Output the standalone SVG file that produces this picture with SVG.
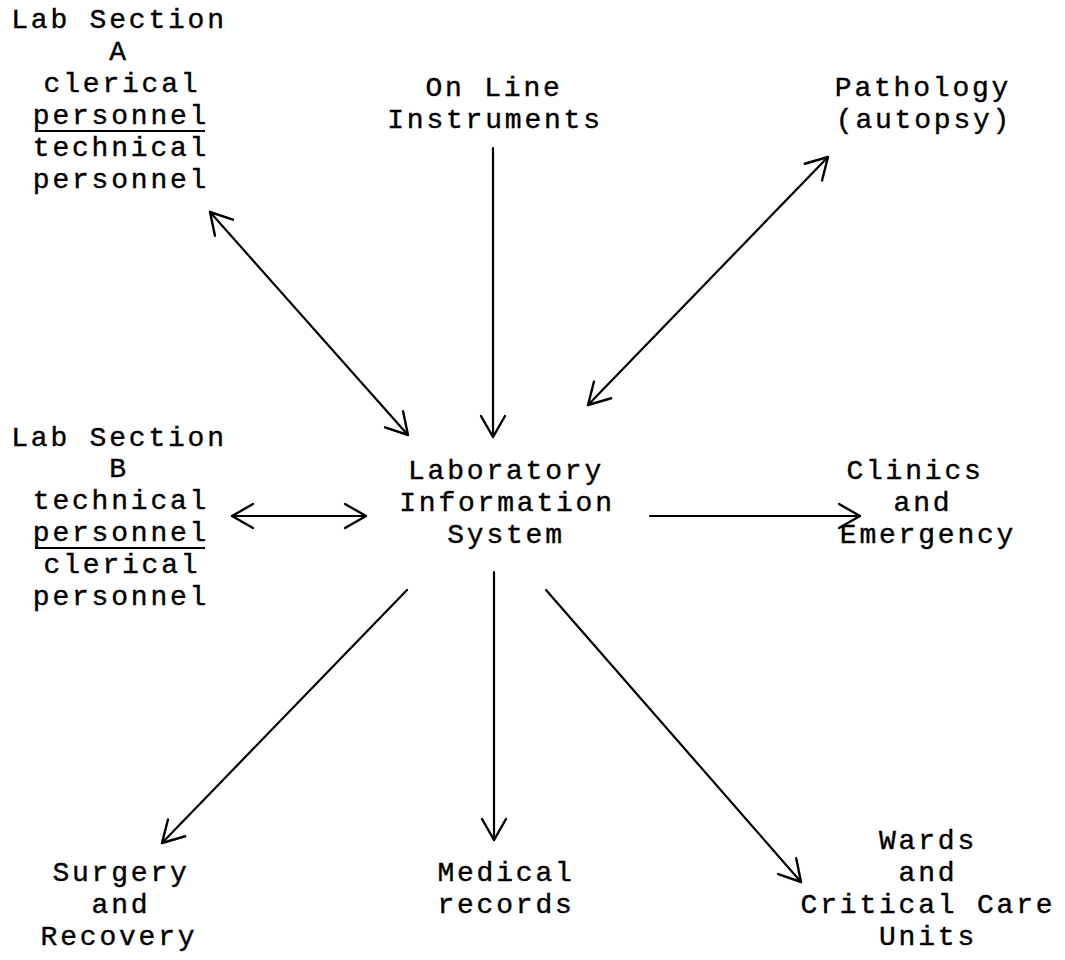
<svg xmlns="http://www.w3.org/2000/svg" width="1065" height="960" viewBox="0 0 1065 960">
<style>
text{font-family:"Liberation Mono","Courier New",monospace;font-size:28px;letter-spacing:2.8px;fill:#000;text-anchor:middle;stroke:#000;stroke-width:0.4}
.c{stroke:#000;stroke-width:2.2;fill:none;stroke-linecap:round}
.u{stroke:#000;stroke-width:2}
</style>
<defs>
<marker id="ah" viewBox="-26 -16 30 32" refX="0" refY="0" markerWidth="30" markerHeight="32" markerUnits="userSpaceOnUse" orient="auto-start-reverse">
<path d="M-21 -12 L0 0 L-21 12" fill="none" stroke="#000" stroke-width="2.4" stroke-linecap="round" stroke-linejoin="round"/>
</marker>
</defs>
<rect width="1065" height="960" fill="#fff"/>
<g id="labA">
<text x="119" y="28">Lab Section</text>
<text x="119" y="60">A</text>
<text x="122" y="92">clerical</text>
<text x="121" y="124">personnel</text>
<line class="u" x1="35" y1="131" x2="205" y2="131"/>
<text x="121" y="156">technical</text>
<text x="121" y="188">personnel</text>
</g>
<g id="online">
<text x="494" y="96">On Line</text>
<text x="495" y="128">Instruments</text>
</g>
<g id="pathology">
<text x="923" y="96">Pathology</text>
<text x="924" y="128">(autopsy)</text>
</g>
<g id="labB">
<text x="119" y="446">Lab Section</text>
<text x="119" y="477">B</text>
<text x="121" y="509">technical</text>
<text x="121" y="541">personnel</text>
<line class="u" x1="35" y1="548" x2="205" y2="548"/>
<text x="122" y="573">clerical</text>
<text x="121" y="605">personnel</text>
</g>
<g id="lis">
<text x="506" y="479">Laboratory</text>
<text x="507" y="511">Information</text>
<text x="506" y="543">System</text>
</g>
<g id="clinics">
<text x="915" y="479">Clinics</text>
<text x="923" y="511">and</text>
<text x="928" y="543">Emergency</text>
</g>
<g id="surgery">
<text x="121" y="881">Surgery</text>
<text x="121" y="913">and</text>
<text x="119" y="945">Recovery</text>
</g>
<g id="medical">
<text x="506" y="881">Medical</text>
<text x="506" y="913">records</text>
</g>
<g id="wards">
<text x="928" y="849">Wards</text>
<text x="928" y="881">and</text>
<text x="928" y="913">Critical Care</text>
<text x="928" y="945">Units</text>
</g>
<g id="connectors">
<line class="c" x1="210" y1="212" x2="408" y2="435" marker-start="url(#ah)" marker-end="url(#ah)"/>
<line class="c" x1="493" y1="148" x2="493" y2="437" marker-end="url(#ah)"/>
<line class="c" x1="828" y1="157" x2="588" y2="405" marker-start="url(#ah)" marker-end="url(#ah)"/>
<line class="c" x1="232" y1="516" x2="366" y2="516" marker-start="url(#ah)" marker-end="url(#ah)"/>
<line class="c" x1="650" y1="516" x2="860" y2="516" marker-end="url(#ah)"/>
<line class="c" x1="407" y1="590" x2="162" y2="843" marker-end="url(#ah)"/>
<line class="c" x1="494" y1="572" x2="494" y2="840" marker-end="url(#ah)"/>
<line class="c" x1="546" y1="590" x2="801" y2="882" marker-end="url(#ah)"/>
</g>
</svg>
